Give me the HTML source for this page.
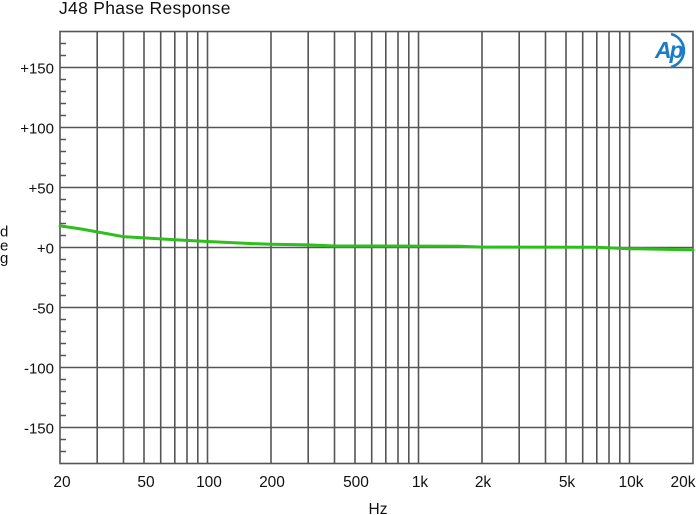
<!DOCTYPE html>
<html><head><meta charset="utf-8"><style>
html,body{margin:0;padding:0;background:#fff;}
svg{display:block;}
text{font-family:"Liberation Sans",Arial,sans-serif;fill:#111;}
</style></head><body>
<svg width="696" height="515" viewBox="0 0 696 515" xmlns="http://www.w3.org/2000/svg">
<rect width="696" height="515" fill="#fff"/>
<text x="59" y="14" font-size="17.5" letter-spacing="0.3">J48 Phase Response</text>
<g stroke="#555" stroke-width="1.6" fill="none">
<line x1="60" y1="67.5" x2="693" y2="67.5"/>
<line x1="60" y1="127.5" x2="693" y2="127.5"/>
<line x1="60" y1="187.5" x2="693" y2="187.5"/>
<line x1="60" y1="247.5" x2="693" y2="247.5"/>
<line x1="60" y1="307.5" x2="693" y2="307.5"/>
<line x1="60" y1="367.5" x2="693" y2="367.5"/>
<line x1="60" y1="427.5" x2="693" y2="427.5"/>
<line x1="97.2" y1="31.5" x2="97.2" y2="463.5"/>
<line x1="123.5" y1="31.5" x2="123.5" y2="463.5"/>
<line x1="144" y1="31.5" x2="144" y2="463.5"/>
<line x1="160.7" y1="31.5" x2="160.7" y2="463.5"/>
<line x1="174.8" y1="31.5" x2="174.8" y2="463.5"/>
<line x1="187" y1="31.5" x2="187" y2="463.5"/>
<line x1="197.8" y1="31.5" x2="197.8" y2="463.5"/>
<line x1="207.5" y1="31.5" x2="207.5" y2="463.5"/>
<line x1="271" y1="31.5" x2="271" y2="463.5"/>
<line x1="308.2" y1="31.5" x2="308.2" y2="463.5"/>
<line x1="334.5" y1="31.5" x2="334.5" y2="463.5"/>
<line x1="355" y1="31.5" x2="355" y2="463.5"/>
<line x1="371.7" y1="31.5" x2="371.7" y2="463.5"/>
<line x1="385.8" y1="31.5" x2="385.8" y2="463.5"/>
<line x1="398" y1="31.5" x2="398" y2="463.5"/>
<line x1="408.8" y1="31.5" x2="408.8" y2="463.5"/>
<line x1="418.5" y1="31.5" x2="418.5" y2="463.5"/>
<line x1="482" y1="31.5" x2="482" y2="463.5"/>
<line x1="519.2" y1="31.5" x2="519.2" y2="463.5"/>
<line x1="545.5" y1="31.5" x2="545.5" y2="463.5"/>
<line x1="566" y1="31.5" x2="566" y2="463.5"/>
<line x1="582.7" y1="31.5" x2="582.7" y2="463.5"/>
<line x1="596.8" y1="31.5" x2="596.8" y2="463.5"/>
<line x1="609" y1="31.5" x2="609" y2="463.5"/>
<line x1="619.8" y1="31.5" x2="619.8" y2="463.5"/>
<line x1="629.5" y1="31.5" x2="629.5" y2="463.5"/>
<path d="M60 43.5h6M60 55.5h6M60 79.5h6M60 91.5h6M60 103.5h6M60 115.5h6M60 139.5h6M60 151.5h6M60 163.5h6M60 175.5h6M60 199.5h6M60 211.5h6M60 223.5h6M60 235.5h6M60 259.5h6M60 271.5h6M60 283.5h6M60 295.5h6M60 319.5h6M60 331.5h6M60 343.5h6M60 355.5h6M60 379.5h6M60 391.5h6M60 403.5h6M60 415.5h6M60 439.5h6M60 451.5h6"/>
<rect x="60" y="31.5" width="633" height="432"/>
</g>
<polyline fill="none" stroke="#2fbf1c" stroke-width="3" stroke-linejoin="round" stroke-linecap="round"
points="60,225.9 80.4,228.9 97.2,231.9 123.5,236.7 144,237.9 174.8,239.7 207.5,241.5 244.6,243.3 271,244.3 308.2,244.9 334.5,246 418.5,246.1 460,246.3 482,247.1 596.8,247.3 629.5,248.7 693,249.9"/>
<g font-size="15" text-anchor="end">
<text x="54" y="73.3">+150</text>
<text x="54" y="133.3">+100</text>
<text x="54" y="193.3">+50</text>
<text x="54" y="253.3">+0</text>
<text x="54" y="313.3">-50</text>
<text x="54" y="373.3">-100</text>
<text x="54" y="433.3">-150</text>
</g>
<g font-size="15">
<text x="0" y="236.5">d</text>
<text x="0" y="250.5">e</text>
<text x="0" y="263">g</text>
</g>
<g font-size="15.5" text-anchor="middle">
<text x="62" y="487">20</text>
<text x="146" y="487">50</text>
<text x="209" y="487">100</text>
<text x="272" y="487">200</text>
<text x="356" y="487">500</text>
<text x="420" y="487">1k</text>
<text x="483" y="487">2k</text>
<text x="567" y="487">5k</text>
<text x="631" y="487">10k</text>
<text x="683" y="487">20k</text>
<text x="378" y="514">Hz</text>
</g>
<g>
<text x="655" y="58" font-size="23" font-weight="bold" font-style="italic" style="fill:#1b7cc6" letter-spacing="-2">Ap</text>
<path d="M671 34 A 17 17 0 0 1 671 67" fill="none" stroke="#1b7cc6" stroke-width="2.6"/>
</g>
</svg>
</body></html>
